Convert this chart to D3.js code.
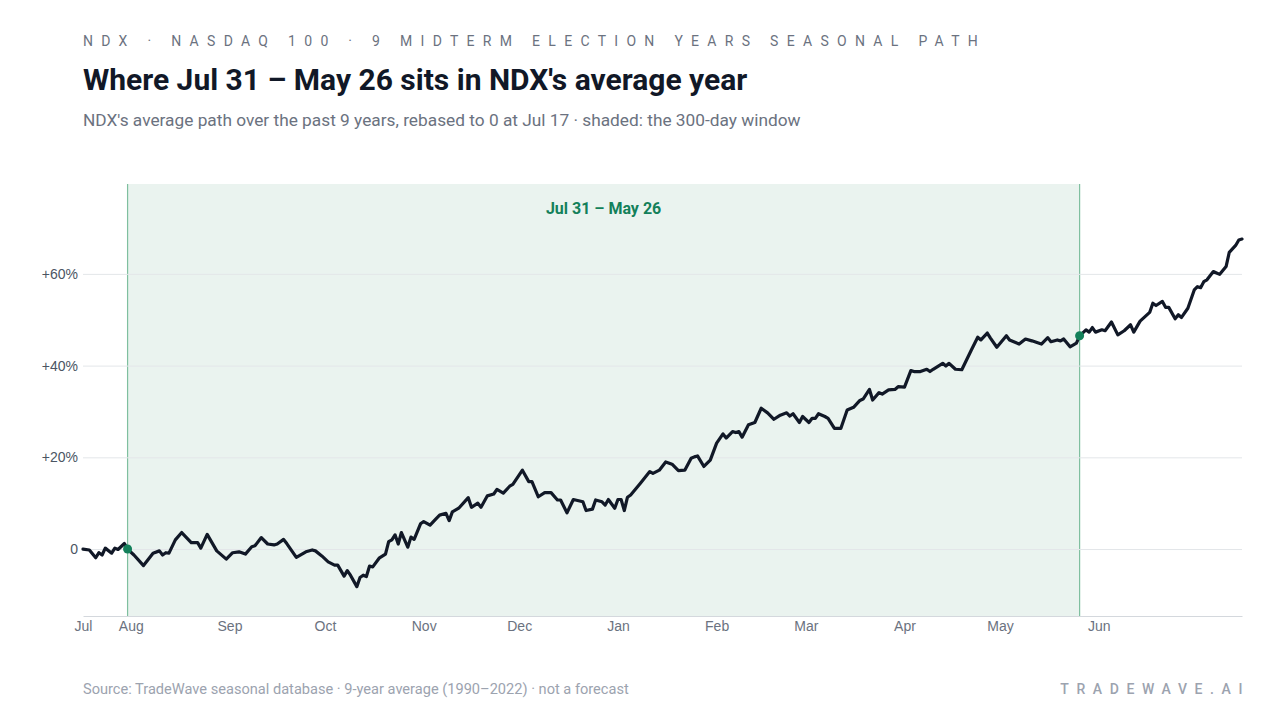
<!DOCTYPE html>
<html>
<head>
<meta charset="utf-8">
<title>NDX seasonal path</title>
<script src="https://d3js.org/d3.v7.min.js"></script>
<style>
  body { margin: 0; background: #fff; font-family: Roboto, "Noto Sans", sans-serif; }
  .kicker { font-size: 14px; letter-spacing: 8.3px; fill: #6b7280; }
  .title { font-size: 30px; font-weight: 700; fill: #111827; }
  .subtitle { font-size: 17.3px; fill: #6b7280; }
  .ylab { font-size: 14px; fill: #4b5563; }
  .xlab { font-size: 14px; fill: #6b7280; }
  .foot { font-size: 14.6px; fill: #9ca3af; }
  .brand { font-size: 14px; font-weight: 500; letter-spacing: 7.6px; fill: #9ca3af; }
</style>
</head>
<body>
<script>
// days since Jul 17 and the average path (%)
var pathDays = [0,2,4,5,6,7,9,10,11,13,14,16,19,22,24,25,26,27,29,31,34,36,37,39,42,45,47,49,51,53,54,56,58,60,61,63,64,67,70,72,73,75,77,79,
  80,82,83,84,86,87,88,89,90,91,93,95,96,97,98,99,100,102,103,104,106,107,109,111,112,114,115,116,118,121,122,124,125,127,129,130,132,134,135,138,140,141,143,145,147,149,
  150,152,154,157,158,160,161,163,164,165,167,168,169,170,171,172,175,178,179,181,183,185,187,189,191,192,193,195,197,199,201,202,204,205,206,207,209,211,213,215,217,219,221,222,223,225,
  226,228,229,230,231,233,234,236,238,240,242,244,245,247,248,250,251,253,255,256,258,260,261,263,265,266,267,270,271,272,274,276,279,281,282,284,285,287,290,291,
  294,296,298,301,303,304,306,307,308,310,312,313,315,316,317,318,320,321,323,325,327,329,330,332,335,336,337,339,340,341,343,344,345,347,349,350,351,352,353,355,356,357,359,360,362,363,364];
var pathValues = [0.0,-0.2,-1.9,-0.8,-1.3,0.2,-0.9,0.2,-0.1,1.2,0.0,-1.3,-3.6,-0.9,-0.4,-1.3,-0.8,-0.9,2.0,3.6,1.4,1.4,0.2,3.2,-0.4,-2.2,-0.8,-0.6,-1.1,0.5,0.7,2.5,1.1,0.9,1.1,2.1,1.2,-1.8,-0.6,-0.2,-0.4,-1.5,-2.8,-3.5,
  -3.5,-5.9,-4.7,-5.7,-8.2,-6.2,-5.7,-6.0,-3.7,-3.9,-2.0,-1.1,1.6,2.0,3.1,1.1,3.6,0.4,2.6,2.1,5.5,6.0,5.2,6.7,7.4,7.8,6.2,8.1,8.9,11.2,9.1,10.0,9.1,11.6,12.0,13.0,12.2,13.7,14.1,17.2,14.7,14.7,11.4,12.3,12.3,10.7,
  10.7,7.9,10.8,10.3,8.4,8.7,10.7,10.3,9.6,10.8,8.9,10.8,10.8,8.4,11.3,11.8,14.3,16.9,16.5,17.2,19.0,18.5,17.1,17.2,19.8,20.1,20.3,18.0,19.4,23.1,25.1,24.2,25.6,25.4,25.6,24.4,27.1,27.6,30.7,29.7,28.3,29.2,29.7,29.0,29.5,27.6,
  28.9,27.6,28.5,28.5,29.5,28.9,28.5,26.3,26.3,30.3,30.9,32.4,32.7,34.8,32.5,34.1,33.8,34.7,34.8,35.4,35.3,38.9,38.7,38.7,39.2,38.7,39.2,40.5,39.9,40.5,39.2,39.1,43.4,46.2,45.6,47.1,46.0,44.0,46.5,45.6,
  44.7,45.8,45.4,44.7,46.1,45.2,45.6,45.4,45.8,44.1,44.9,46.5,47.8,47.3,48.3,47.3,47.8,47.6,49.5,46.7,47.6,48.9,47.3,49.7,51.6,53.6,53.1,54.0,52.7,52.7,50.2,51.1,50.5,52.5,56.5,57.2,57.0,58.3,58.7,60.5,60.2,59.9,61.6,64.7,66.2,67.4,67.6];

var yTicks = [0, 20, 40, 60];
var yTickLabels = ["0", "+20%", "+40%", "+60%"];
var monthLabels = ["Jul","Aug","Sep","Oct","Nov","Dec","Jan","Feb","Mar","Apr","May","Jun"];
var windowStart = "2021-07-31", windowEnd = "2022-05-26";

var W = 1280, H = 720;
var parse = d3.timeParse("%Y-%m-%d");
var start = parse("2021-07-17"), end = d3.timeDay.offset(start, 364);
var dayToDate = function (d) { return d3.timeDay.offset(start, d); };

var data = pathDays.map(function (d, i) { return { date: dayToDate(d), day: d, v: pathValues[i] }; });

var x = d3.scaleTime().domain([start, end]).range([83, 1242]);
var y = d3.scaleLinear().domain([-14.6, 79.6]).range([616, 184]);

var svg = d3.select("body").append("svg").attr("width", W).attr("height", H);

// header
svg.append("text").attr("class", "kicker").attr("x", 83).attr("y", 46)
  .text("NDX · NASDAQ 100 · 9 MIDTERM ELECTION YEARS SEASONAL PATH");
svg.append("text").attr("class", "title").attr("x", 83).attr("y", 90)
  .text("Where Jul 31 – May 26 sits in NDX's average year");
svg.append("text").attr("class", "subtitle").attr("x", 83).attr("y", 126)
  .text("NDX's average path over the past 9 years, rebased to 0 at Jul 17 · shaded: the 300-day window");

// shaded window
var ws = parse(windowStart), we = parse(windowEnd);
svg.append("rect").attr("x", x(ws)).attr("y", y.range()[1])
  .attr("width", x(we) - x(ws)).attr("height", y.range()[0] - y.range()[1])
  .attr("fill", "#eaf3ef");
[ws, we].forEach(function (d) {
  svg.append("line").attr("x1", x(d)).attr("x2", x(d)).attr("y1", y.range()[1]).attr("y2", y.range()[0])
    .attr("stroke", "#7fbf9f").attr("stroke-width", 1.2);
});
svg.append("text").attr("x", (x(ws) + x(we)) / 2).attr("y", 214).attr("text-anchor", "middle")
  .attr("font-size", 16).attr("font-weight", 700).attr("fill", "#13805a")
  .text("Jul 31 – May 26");

// grid + y labels
var yAxis = d3.axisLeft(y).tickValues(yTicks).tickSize(-(1242 - 83))
  .tickFormat(function (d, i) { return yTickLabels[i]; });
var gy = svg.append("g").attr("transform", "translate(83,0)").call(yAxis);
gy.select(".domain").remove();
gy.selectAll(".tick line").attr("stroke", "#e3e6e9").attr("stroke-width", 1);
gy.selectAll(".tick text").attr("class", "ylab").attr("x", -5).attr("font-family", null).attr("font-size", null).attr("fill", null);

// x axis
var monthTicks = [start].concat(d3.timeMonth.range(d3.timeMonth.ceil(start), end));
var xAxis = d3.axisBottom(x).tickValues(monthTicks).tickSize(0)
  .tickFormat(function (d, i) { return monthLabels[i]; });
var gx = svg.append("g").attr("transform", "translate(0,616)").call(xAxis);
gx.select(".domain").attr("stroke", "#d4d8dd");
gx.selectAll(".tick text").attr("class", "xlab").attr("dy", "0.85em").attr("font-family", null).attr("font-size", null).attr("fill", null);

// path
var line = d3.line().x(function (d) { return x(d.date); }).y(function (d) { return y(d.v); });
svg.append("path").datum(data).attr("d", line).attr("fill", "none")
  .attr("stroke", "#111827").attr("stroke-width", 3.2).attr("stroke-linejoin", "round").attr("stroke-linecap", "round");

// window endpoints
var ends = data.filter(function (d) { return +d.date === +ws || +d.date === +we; });
svg.selectAll("circle.end").data(ends).enter().append("circle").attr("class", "end")
  .attr("cx", function (d) { return x(d.date); }).attr("cy", function (d) { return y(d.v); })
  .attr("r", 4.5).attr("fill", "#13805a");

// footer
svg.append("text").attr("class", "foot").attr("x", 83).attr("y", 694)
  .text("Source: TradeWave seasonal database · 9-year average (1990–2022) · not a forecast");
svg.append("text").attr("class", "brand").attr("x", 1250).attr("y", 694).attr("text-anchor", "end")
  .text("TRADEWAVE.AI");
</script>
</body>
</html>
